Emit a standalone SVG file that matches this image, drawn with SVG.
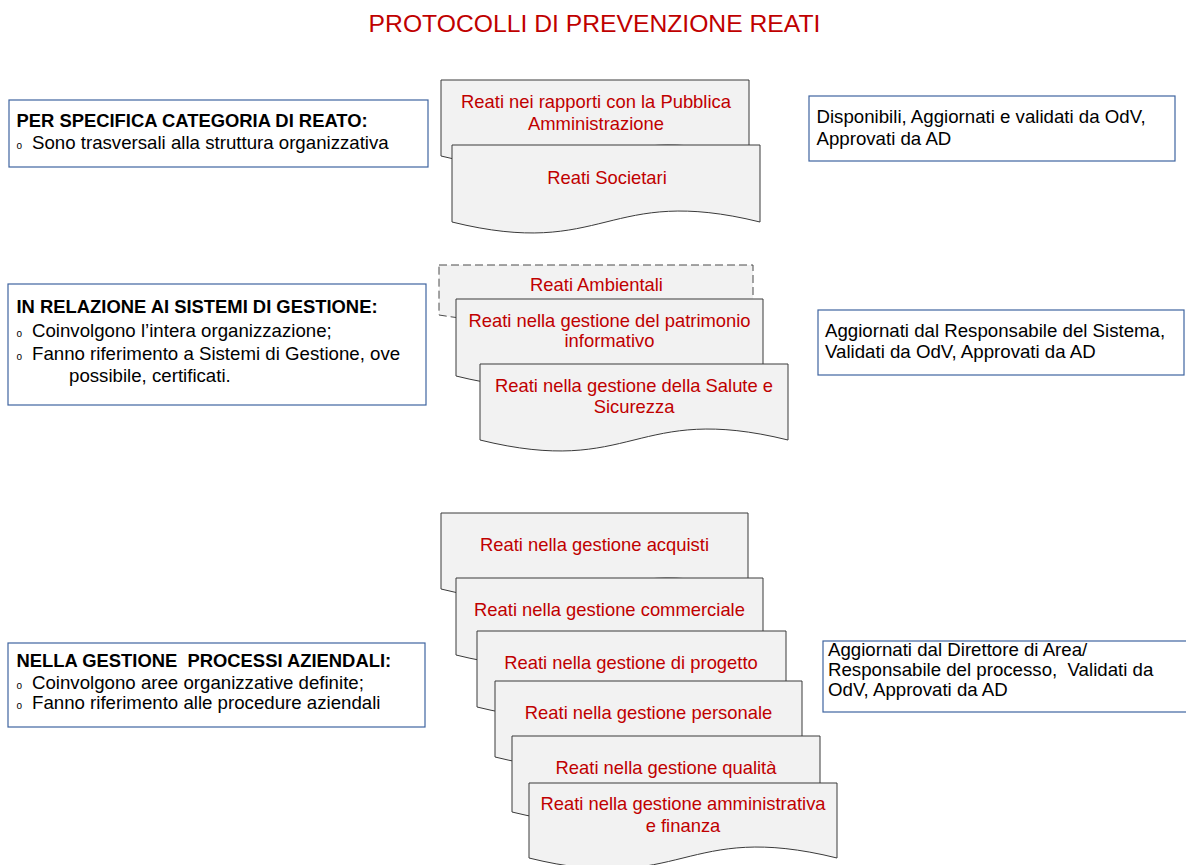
<svg xmlns="http://www.w3.org/2000/svg" width="1186" height="865" viewBox="0 0 1186 865">
<style>
  text { font-family: "Liberation Sans", Arial, sans-serif; white-space: pre; }
  .title { font-size: 24.7px; fill: #C00000; text-anchor: middle; }
  .doc { fill: #F2F2F2; stroke: #3A3A3A; stroke-width: 1; }
  .dash { stroke: #4A4A4A; stroke-dasharray: 8 4; }
  .dt { font-size: 18.4px; fill: #C00000; text-anchor: middle; }
  .box { fill: #FFFFFF; stroke: #3F64A0; stroke-width: 1.2; }
  .bt { font-size: 18.67px; fill: #000000; }
  .bb { font-size: 18.4px; font-weight: bold; fill: #000000; }
  .bul { font-size: 10px; fill: #000000; }
</style>
<rect width="1186" height="865" fill="#FFFFFF"/>
<text class="title" x="594.5" y="32">PROTOCOLLI DI PREVENZIONE REATI</text>

<g id="left-categoria">
  <rect class="box" x="9" y="100" width="419" height="67"/>
  <text class="bb" x="16.5" y="127">PER SPECIFICA CATEGORIA DI REATO:</text>
  <text class="bul" x="16.5" y="149">o</text>
  <text class="bt" x="32" y="149">Sono trasversali alla struttura organizzativa</text>
</g>

<g id="left-sistemi">
  <rect class="box" x="8" y="284" width="418" height="121"/>
  <text class="bb" x="16.5" y="313">IN RELAZIONE AI SISTEMI DI GESTIONE:</text>
  <text class="bul" x="16.5" y="337">o</text>
  <text class="bt" x="32" y="337">Coinvolgono l’intera organizzazione;</text>
  <text class="bul" x="16.5" y="360">o</text>
  <text class="bt" x="32" y="360">Fanno riferimento a Sistemi di Gestione, ove</text>
  <text class="bt" x="69" y="382">possibile, certificati.</text>
</g>

<g id="left-processi">
  <rect class="box" x="8" y="643" width="417" height="84"/>
  <text class="bb" x="16.5" y="667" xml:space="preserve">NELLA GESTIONE  PROCESSI AZIENDALI:</text>
  <text class="bul" x="16.5" y="689">o</text>
  <text class="bt" x="32" y="689">Coinvolgono aree organizzative definite;</text>
  <text class="bul" x="16.5" y="709">o</text>
  <text class="bt" x="32" y="709">Fanno riferimento alle procedure aziendali</text>
</g>

<g id="right-1">
  <rect class="box" x="809" y="96" width="366" height="65"/>
  <text class="bt" x="816.5" y="123">Disponibili, Aggiornati e validati da OdV,</text>
  <text class="bt" x="816.5" y="145">Approvati da AD</text>
</g>

<g id="right-2">
  <rect class="box" x="818" y="310" width="366" height="65"/>
  <text class="bt" x="825" y="337">Aggiornati dal Responsabile del Sistema,</text>
  <text class="bt" x="825" y="358">Validati da OdV, Approvati da AD</text>
</g>

<g id="right-3">
  <rect class="box" x="823" y="641" width="372" height="71"/>
  <text class="bt" x="828" y="656">Aggiornati dal Direttore di Area/</text>
  <text class="bt" x="828" y="676" xml:space="preserve">Responsabile del processo,  Validati da</text>
  <text class="bt" x="828" y="696">OdV, Approvati da AD</text>
</g>

<g id="doc-pa">
  <path class="doc" d="M441 80 H749 V156 C595 118 595 194 441 156 Z"/>
  <text class="dt" x="596" y="107.5">Reati nei rapporti con la Pubblica</text>
  <text class="dt" x="596" y="129.5">Amministrazione</text>
</g>
<g id="doc-societari">
  <path class="doc" d="M452 145 H760 V222 C606 184 606 260 452 222 Z"/>
  <text class="dt" x="607" y="183.5">Reati Societari</text>
</g>

<g id="doc-ambientali">
  <path class="doc dash" d="M439 265 H753 V315 C596 290 596 340 439 315 Z"/>
  <text class="dt" x="596.5" y="291">Reati Ambientali</text>
</g>
<g id="doc-patrimonio">
  <path class="doc" d="M456 299 H763 V376 C609.5 338 609.5 414 456 376 Z"/>
  <text class="dt" x="609.5" y="327">Reati nella gestione del patrimonio</text>
  <text class="dt" x="609.5" y="347">informativo</text>
</g>
<g id="doc-salute">
  <path class="doc" d="M480 364 H788 V440 C634 402 634 478 480 440 Z"/>
  <text class="dt" x="634" y="392">Reati nella gestione della Salute e</text>
  <text class="dt" x="634" y="413">Sicurezza</text>
</g>

<g id="doc-acquisti">
  <path class="doc" d="M441 513 H748 V589 C594.5 551 594.5 627 441 589 Z"/>
  <text class="dt" x="594.5" y="550.5">Reati nella gestione acquisti</text>
</g>
<g id="doc-commerciale">
  <path class="doc" d="M456 578 H763 V655 C609.5 617 609.5 693 456 655 Z"/>
  <text class="dt" x="609.5" y="616">Reati nella gestione commerciale</text>
</g>
<g id="doc-progetto">
  <path class="doc" d="M477 631 H786 V707 C631.5 669 631.5 745 477 707 Z"/>
  <text class="dt" x="631" y="668.5">Reati nella gestione di progetto</text>
</g>
<g id="doc-personale">
  <path class="doc" d="M495 681 H802 V757 C648.5 719 648.5 795 495 757 Z"/>
  <text class="dt" x="648.5" y="718.5">Reati nella gestione personale</text>
</g>
<g id="doc-qualita">
  <path class="doc" d="M512 736 H820 V812 C666 774 666 850 512 812 Z"/>
  <text class="dt" x="666" y="773.5">Reati nella gestione qualità</text>
</g>
<g id="doc-amministrativa">
  <path class="doc" d="M529 783 H837 V858 C683 820 683 896 529 858 Z"/>
  <text class="dt" x="683" y="810">Reati nella gestione amministrativa</text>
  <text class="dt" x="683" y="832">e finanza</text>
</g>

<g id="connectors"></g>
</svg>
